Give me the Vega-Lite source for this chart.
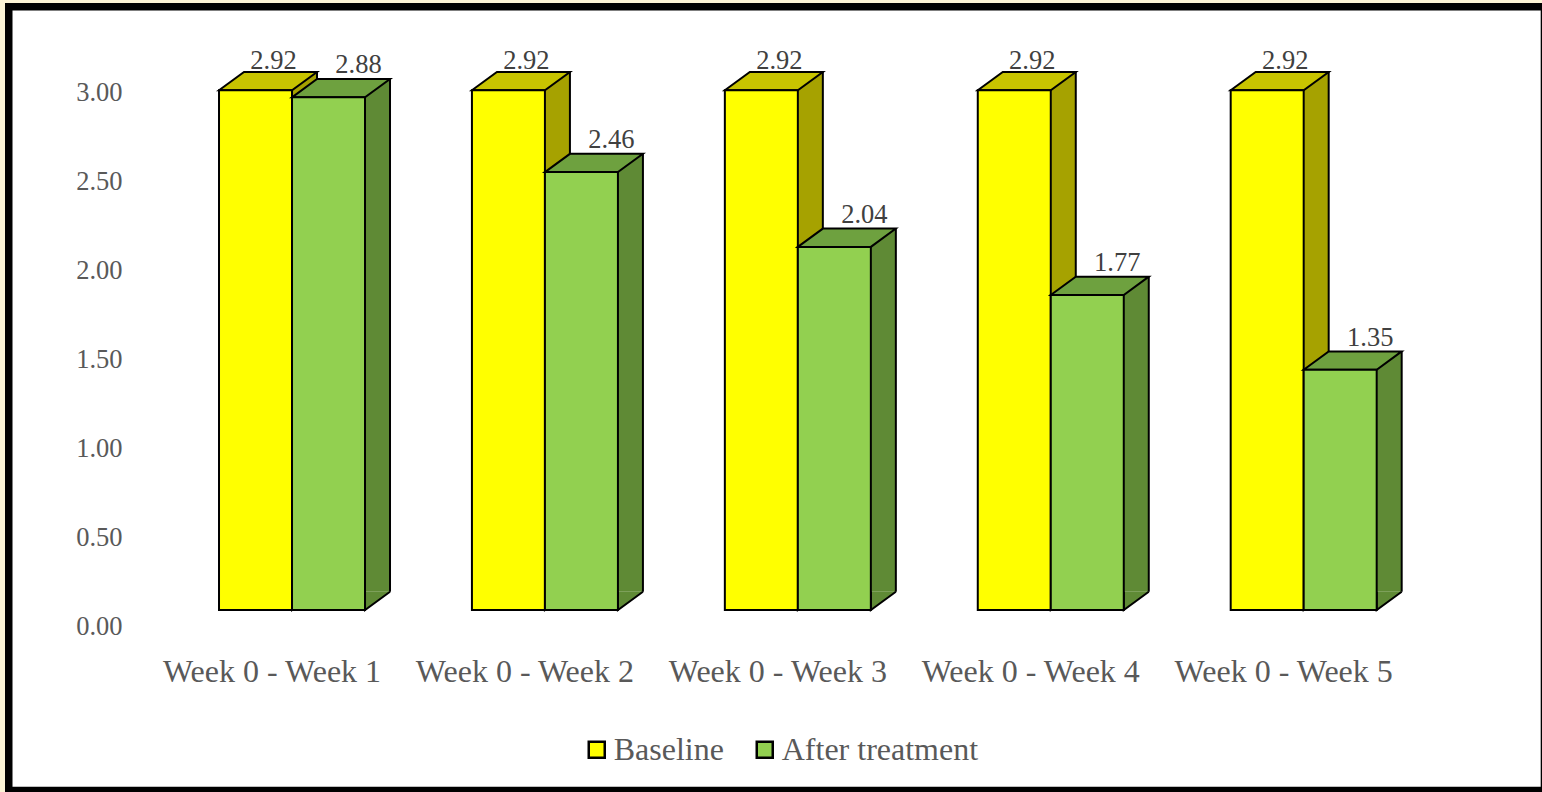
{
  "$schema": "https://vega.github.io/schema/vega-lite/v6.json",
  "autosize": "none",
  "width": 1535.7,
  "height": 783.65,
  "padding": {"left": 8.75, "top": 6.85, "right": -2.45, "bottom": 1.5},
  "background": "#FBF3D5",
  "view": {"fill": "white", "stroke": "black", "strokeWidth": 7.5},
  "config": {"font": "Liberation Serif"},
  "data": {
    "values": [
      {"period": "Week 0 - Week 1", "series": "Baseline", "value": 2.92},
      {"period": "Week 0 - Week 1", "series": "After treatment", "value": 2.88},
      {"period": "Week 0 - Week 2", "series": "Baseline", "value": 2.92},
      {"period": "Week 0 - Week 2", "series": "After treatment", "value": 2.46},
      {"period": "Week 0 - Week 3", "series": "Baseline", "value": 2.92},
      {"period": "Week 0 - Week 3", "series": "After treatment", "value": 2.04},
      {"period": "Week 0 - Week 4", "series": "Baseline", "value": 2.92},
      {"period": "Week 0 - Week 4", "series": "After treatment", "value": 1.77},
      {"period": "Week 0 - Week 5", "series": "Baseline", "value": 2.92},
      {"period": "Week 0 - Week 5", "series": "After treatment", "value": 1.35}
    ]
  },
  "encoding": {
    "x": {
      "field": "period", "type": "nominal", "sort": null, "title": null,
      "scale": {"range": [156.8, 1421.4], "paddingInner": 0, "paddingOuter": 0},
      "axis": {
        "orient": "bottom", "domain": false, "ticks": false, "tickSize": 0, "grid": false,
        "labelAngle": 0, "labelPadding": 0, "labelBaseline": "alphabetic", "labelOffset": -20,
        "labelLimit": 0, "offset": -108.8,
        "labelFont": "Liberation Serif", "labelFontSize": 32, "labelColor": "#595959"
      }
    },
    "y": {
      "field": "value", "type": "quantitative", "title": null,
      "scale": {"domain": [0, 3], "range": [603.15, 69.15], "nice": false, "zero": true},
      "axis": {
        "values": [0, 0.5, 1, 1.5, 2, 2.5, 3], "format": ".2f",
        "domain": false, "ticks": false, "tickSize": 0, "grid": false,
        "labelPadding": 0, "labelOffset": 16.5, "offset": -113.25,
        "labelFont": "Liberation Serif", "labelFontSize": 26.5, "labelColor": "#595959"
      }
    }
  },
  "layer": [
    {
      "transform": [{"filter": "datum.series === 'Baseline'"}],
      "layer": [
        {
          "mark": {"type": "bar", "width": 25, "xOffset": 12.5, "yOffset": -18.3, "y2Offset": -18.3, "fill": "#A6A200"},
          "encoding": {"y2": {"datum": 0}}
        },
        {
          "mark": {"type": "rule", "xOffset": 25, "yOffset": -18.3, "y2Offset": -18.3, "stroke": "black", "strokeWidth": 2},
          "encoding": {"y2": {"datum": 0}}
        },
        {
          "mark": {"type": "point", "shape": "M36.5,-18.3L36.5,0L61.5,-18.3", "size": 4, "xOffset": -36.5, "fill": "#A6A200", "stroke": "black", "strokeWidth": 2, "opacity": 1, "filled": true},
          "encoding": {"y": {"datum": 0, "type": "quantitative", "title": null}}
        },
        {
          "mark": {"type": "point", "shape": "M-36.5,0L-11.5,-18.3L61.5,-18.3L36.5,0Z", "size": 4, "xOffset": -36.5, "fill": "#C8C400", "stroke": "black", "strokeWidth": 2, "opacity": 1, "filled": true}
        },
        {
          "mark": {"type": "bar", "width": 73, "xOffset": -36.5, "stroke": "black", "strokeWidth": 2},
          "encoding": {
            "color": {
              "field": "series", "type": "nominal",
              "scale": {"domain": ["Baseline", "After treatment"], "range": ["#FFFF00", "#92D050"]},
              "legend": {
                "orient": "none", "legendX": 572, "legendY": 727, "direction": "horizontal", "title": null,
                "symbolType": "square", "symbolSize": 256, "symbolStrokeColor": "black", "symbolStrokeWidth": 2.5,
                "labelFont": "Liberation Serif", "labelFontSize": 32, "labelColor": "#595959", "labelLimit": 0,
                "labelOffset": 1, "columnPadding": 24
              }
            }
          }
        }
      ]
    },
    {
      "transform": [{"filter": "datum.series === 'After treatment'"}],
      "layer": [
        {
          "mark": {"type": "bar", "width": 25, "xOffset": 85.5, "yOffset": -18.3, "y2Offset": -18.3, "fill": "#5F8A35"},
          "encoding": {"y2": {"datum": 0}}
        },
        {
          "mark": {"type": "rule", "xOffset": 98, "yOffset": -18.3, "y2Offset": -18.3, "stroke": "black", "strokeWidth": 2},
          "encoding": {"y2": {"datum": 0}}
        },
        {
          "mark": {"type": "point", "shape": "M36.5,-18.3L36.5,0L61.5,-18.3", "size": 4, "xOffset": 36.5, "fill": "#5F8A35", "stroke": "black", "strokeWidth": 2, "opacity": 1, "filled": true},
          "encoding": {"y": {"datum": 0, "type": "quantitative", "title": null}}
        },
        {
          "mark": {"type": "point", "shape": "M-36.5,0L-11.5,-18.3L61.5,-18.3L36.5,0Z", "size": 4, "xOffset": 36.5, "fill": "#6EA13F", "stroke": "black", "strokeWidth": 2, "opacity": 1, "filled": true}
        },
        {
          "mark": {"type": "bar", "width": 73, "xOffset": 36.5, "stroke": "black", "strokeWidth": 2},
          "encoding": {
            "color": {
              "field": "series", "type": "nominal",
              "scale": {"domain": ["Baseline", "After treatment"], "range": ["#FFFF00", "#92D050"]}
            }
          }
        }
      ]
    },
    {
      "transform": [{"filter": "datum.series === 'Baseline'"}],
      "mark": {"type": "text", "xOffset": -18.5, "yOffset": -21, "baseline": "alphabetic", "align": "center", "font": "Liberation Serif", "fontSize": 26.5, "fill": "#404040"},
      "encoding": {"text": {"field": "value", "type": "quantitative", "format": ".2f"}}
    },
    {
      "transform": [{"filter": "datum.series === 'After treatment'"}],
      "mark": {"type": "text", "xOffset": 66.5, "yOffset": -24, "baseline": "alphabetic", "align": "center", "font": "Liberation Serif", "fontSize": 26.5, "fill": "#404040"},
      "encoding": {"text": {"field": "value", "type": "quantitative", "format": ".2f"}}
    }
  ]
}
